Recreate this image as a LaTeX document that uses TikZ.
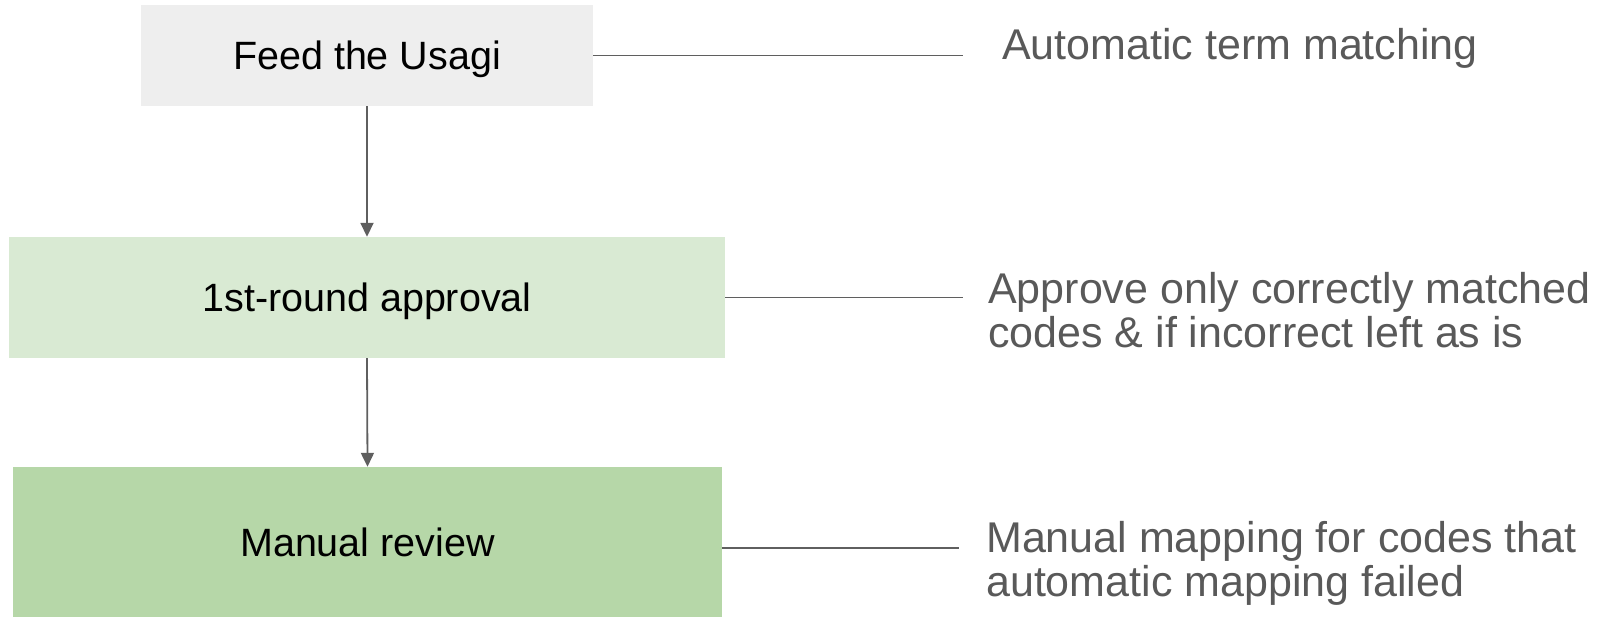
\documentclass[tikz,border=0pt]{standalone}
\usepackage{fontspec}
\setmainfont{Liberation Sans}
\usetikzlibrary{arrows.meta}
\definecolor{boxgray}{HTML}{EEEEEE}
\definecolor{boxlight}{HTML}{D9EAD3}
\definecolor{boxgreen}{HTML}{B6D7A8}
\definecolor{linegray}{HTML}{5F5F5F}
\definecolor{textgray}{HTML}{595959}
\tikzset{
  stepbox/.style={rectangle, inner sep=0pt, draw=none, text=black,
    text height=28.3pt, text depth=0pt,
    font=\fontsize{39.5}{44}\selectfont},
  note/.style={anchor=base west, inner sep=0pt, text=textgray,
    font=\fontsize{43}{44}\selectfont},
  flow/.style={draw=linegray, line width=1.8pt, -{Triangle[width=13pt,length=14pt]}},
  link/.style={draw=linegray, line width=1.6pt}
}
\begin{document}
\begin{tikzpicture}[x=1pt,y=-1pt]
\useasboundingbox (0,0) rectangle (1612,616);
\node[stepbox, fill=boxgray, minimum width=452pt, minimum height=101pt] (b1) at (367,55.5) {Feed the Usagi};
\node[stepbox, fill=boxlight, minimum width=716pt, minimum height=121pt] (b2) at (367,297.5) {1st-round approval};
\node[stepbox, fill=boxgreen, minimum width=709pt, minimum height=150pt] (b3) at (367.5,542) {Manual review};
\draw[flow] (b1.south) -- (b2.north);
\draw[flow] (b2.south) -- (b3.north);
\coordinate (e1) at (963,55.5);
\coordinate (e2) at (963,297.5);
\coordinate (e3) at (959,548);
\draw[link] (b1.east) -- (e1);
\draw[link] (b2.east) -- (e2);
\draw[link] (b3.east |- e3) -- (e3);
\node[note] (t1) at (1002,59.5) {Automatic term matching};
\node[note] (t2) at (988,303) {\begin{tabular}[t]{@{}l@{}}Approve only correctly matched\\codes \& if incorrect left as is\end{tabular}};
\node[note] (t3) at (986,552) {\begin{tabular}[t]{@{}l@{}}Manual mapping for codes that\\automatic mapping failed\end{tabular}};
\end{tikzpicture}
\end{document}
